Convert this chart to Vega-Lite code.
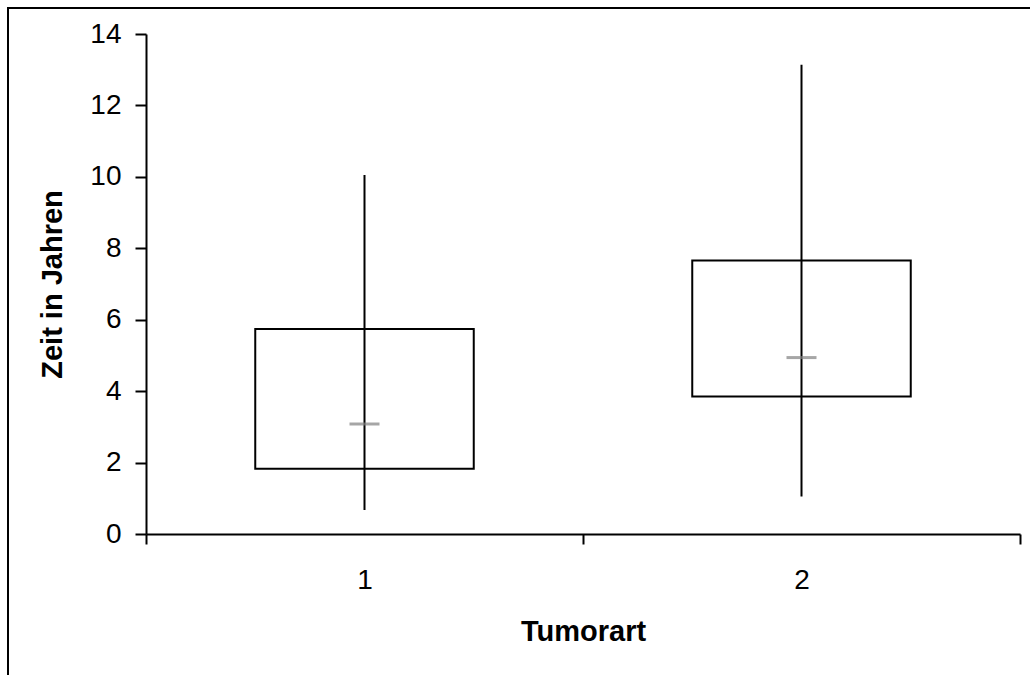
{
  "$schema": "https://vega.github.io/schema/vega-lite/v6.json",
  "width": 1030,
  "height": 675,
  "autosize": "none",
  "padding": {"left": 8, "top": 8, "right": 0, "bottom": 0},
  "background": "white",
  "config": {
    "font": "Liberation Sans",
    "view": {"stroke": "black", "strokeWidth": 2},
    "axis": {
      "grid": false,
      "domainColor": "black",
      "domainWidth": 2,
      "tickColor": "black",
      "tickWidth": 2,
      "labelColor": "black",
      "labelFont": "Liberation Sans",
      "labelFontSize": 28,
      "titleColor": "black",
      "titleFont": "Liberation Sans",
      "titleFontSize": 29,
      "titleFontWeight": "bold"
    }
  },
  "data": {
    "values": [
      {"Tumorart": "1", "min": 0.67, "q1": 1.83, "median": 3.08, "q3": 5.74, "max": 10.05},
      {"Tumorart": "2", "min": 1.05, "q1": 3.85, "median": 4.94, "q3": 7.66, "max": 13.14}
    ]
  },
  "encoding": {
    "x": {
      "field": "Tumorart",
      "type": "nominal",
      "scale": {"type": "band", "range": [138, 1012], "paddingInner": 0, "paddingOuter": 0},
      "axis": {
        "title": "Tumorart",
        "offset": -149,
        "labelAngle": 0,
        "tickBand": "extent",
        "tickSize": 10,
        "labelPadding": 22,
        "titlePadding": 23
      }
    }
  },
  "layer": [
    {
      "mark": {"type": "bar", "width": {"band": 0.5}, "fill": "white", "stroke": "black", "strokeWidth": 2},
      "encoding": {
        "y": {
          "field": "q1",
          "type": "quantitative",
          "title": "Zeit in Jahren",
          "scale": {"domain": [0, 14], "range": [526, 26]},
          "axis": {
            "title": "Zeit in Jahren",
            "offset": -138,
            "values": [0, 2, 4, 6, 8, 10, 12, 14],
            "tickSize": 11,
            "labelPadding": 14,
            "titlePadding": 22
          }
        },
        "y2": {"field": "q3"}
      }
    },
    {
      "mark": {"type": "rule", "color": "black", "strokeWidth": 2},
      "encoding": {
        "y": {"field": "min", "type": "quantitative", "title": "Zeit in Jahren"},
        "y2": {"field": "max"}
      }
    },
    {
      "mark": {"type": "tick", "color": "#808080", "size": 30, "thickness": 3},
      "encoding": {
        "y": {"field": "median", "type": "quantitative", "title": "Zeit in Jahren"}
      }
    }
  ]
}
